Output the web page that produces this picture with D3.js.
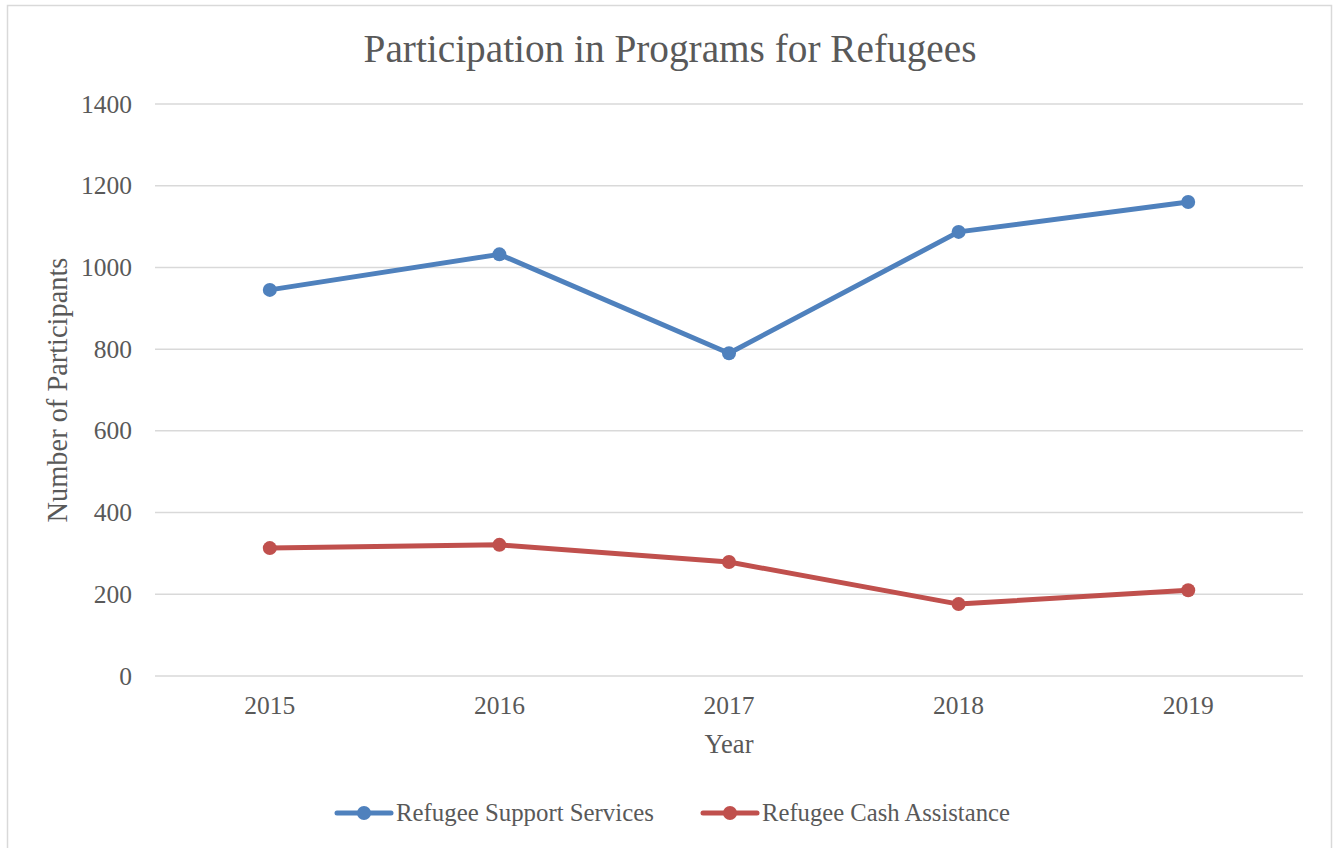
<!DOCTYPE html>
<html>
<head>
<meta charset="utf-8">
<script src="https://cdn.jsdelivr.net/npm/d3@7"></script>
<style>
  html, body { margin: 0; padding: 0; background: #ffffff; }
  svg text { font-family: "Liberation Serif", "DejaVu Serif", serif; fill: #595959; }
</style>
</head>
<body>
<svg id="chart" width="1333" height="848"></svg>
<script>
const years = ["2015", "2016", "2017", "2018", "2019"];
const supportServices = [945, 1032, 790, 1087, 1160];
const cashAssistance = [313, 321, 279, 176, 210];
const yTicks = [0, 200, 400, 600, 800, 1000, 1200, 1400];
const seriesNames = ["Refugee Support Services", "Refugee Cash Assistance"];
const seriesColors = ["#4f81bd", "#c0504d"];
const titleText = "Participation in Programs for Refugees";
const xTitle = "Year";
const yTitle = "Number of Participants";

const svg = d3.select("#chart");

function fit(sel, target) {
  const base = 20;
  sel.attr("font-size", base);
  const w = sel.node().getComputedTextLength();
  sel.attr("font-size", base * target / w);
  return sel;
}

// outer border
svg.append("rect")
  .attr("x", 7.5).attr("y", 5.5)
  .attr("width", 1324).attr("height", 900)
  .attr("fill", "#ffffff")
  .attr("stroke", "#d9d9d9").attr("stroke-width", 1.5);

const x = d3.scaleBand().domain(years).range([155, 1303]).padding(0);
const y = d3.scaleLinear().domain([0, 1400]).range([676, 104]);

// gridlines
svg.append("g").selectAll("line").data(yTicks).join("line")
  .attr("x1", 155).attr("x2", 1303)
  .attr("y1", d => y(d)).attr("y2", d => y(d))
  .attr("stroke", "#d9d9d9").attr("stroke-width", 1.5);

// y tick labels
const yl = svg.append("g").selectAll("text").data(yTicks).join("text")
  .attr("x", 132).attr("y", d => y(d) + 8.5)
  .attr("text-anchor", "end")
  .text(d => d);
const fsTick = (() => { const t = svg.append("text").text("1400"); fit(t, 51); const f = +t.attr("font-size"); t.remove(); return f; })();
yl.attr("font-size", fsTick);

// x tick labels
svg.append("g").selectAll("text").data(years).join("text")
  .attr("x", d => x(d) + x.bandwidth() / 2).attr("y", 714)
  .attr("text-anchor", "middle")
  .attr("font-size", fsTick)
  .text(d => d);

// title
fit(svg.append("text").attr("x", 670).attr("y", 62).attr("text-anchor", "middle").text(titleText), 613);

// axis titles
fit(svg.append("text").attr("x", 729).attr("y", 753).attr("text-anchor", "middle").text(xTitle), 49);
fit(svg.append("text").attr("transform", "translate(67,390) rotate(-90)").attr("text-anchor", "middle").text(yTitle), 265);

// lines
const line = d3.line().x((d, i) => x(years[i]) + x.bandwidth() / 2).y(d => y(d));
[supportServices, cashAssistance].forEach((vals, si) => {
  const g = svg.append("g");
  g.append("path").datum(vals)
    .attr("d", line)
    .attr("fill", "none")
    .attr("stroke", seriesColors[si])
    .attr("stroke-width", 5)
    .attr("stroke-linejoin", "round")
    .attr("stroke-linecap", "round");
  g.selectAll("circle").data(vals).join("circle")
    .attr("cx", (d, i) => x(years[i]) + x.bandwidth() / 2)
    .attr("cy", d => y(d))
    .attr("r", 7)
    .attr("fill", seriesColors[si]);
});

// legend
const legendX = [337, 703];
const legendW = [258, 248];
seriesNames.forEach((name, i) => {
  const g = svg.append("g");
  g.append("line")
    .attr("x1", legendX[i]).attr("x2", legendX[i] + 54)
    .attr("y1", 813).attr("y2", 813)
    .attr("stroke", seriesColors[i]).attr("stroke-width", 5)
    .attr("stroke-linecap", "round");
  g.append("circle").attr("cx", legendX[i] + 27).attr("cy", 813).attr("r", 7)
    .attr("fill", seriesColors[i]);
  fit(g.append("text").attr("x", legendX[i] + 59).attr("y", 821).text(name), legendW[i]);
});
</script>
</body>
</html>
